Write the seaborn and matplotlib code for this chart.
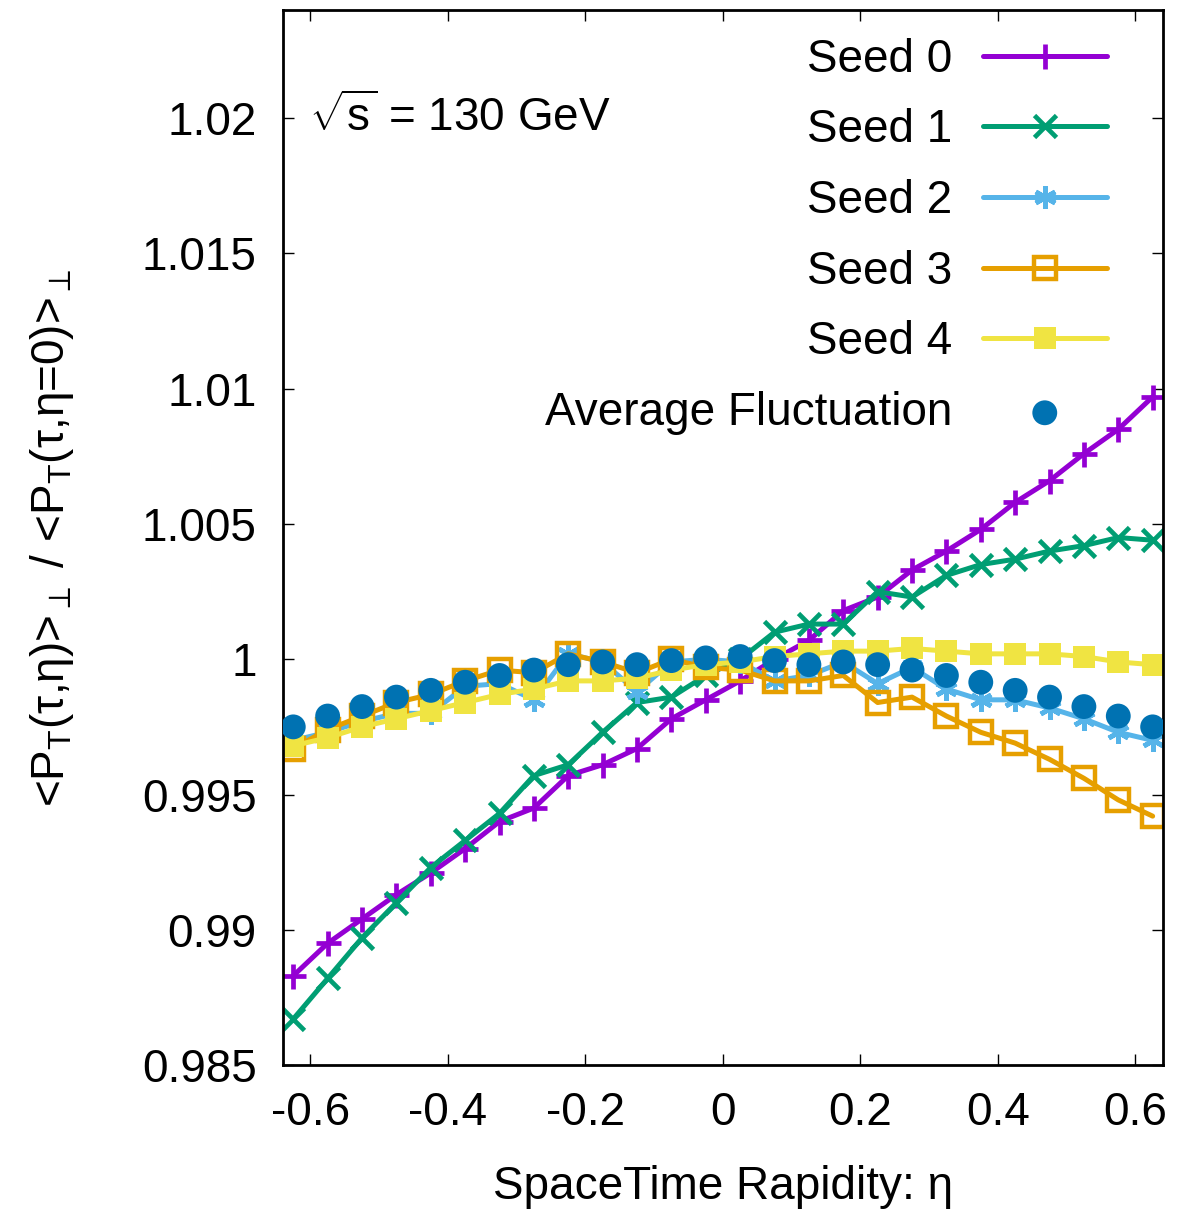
import matplotlib
matplotlib.use("Agg")
import matplotlib.pyplot as plt
from matplotlib.ticker import FormatStrFormatter
import seaborn as sns

# Data
eta = [-0.625, -0.575, -0.525, -0.475, -0.425, -0.375, -0.325, -0.275, -0.225,
       -0.175, -0.125, -0.075, -0.025, 0.025, 0.075, 0.125, 0.175, 0.225, 0.275,
       0.325, 0.375, 0.425, 0.475, 0.525, 0.575, 0.625]

seed0 = [0.9883, 0.9895, 0.9904, 0.9913, 0.9921, 0.9930, 0.9940, 0.9945, 0.9957,
         0.9961, 0.9967, 0.9978, 0.9985, 0.9992, 1.0000, 1.0007, 1.0018, 1.0023,
         1.0033, 1.0040, 1.0048, 1.0058, 1.0066, 1.0076, 1.0085, 1.0097]
seed1 = [0.9867, 0.9882, 0.9897, 0.9910, 0.9923, 0.9933, 0.9943, 0.9957, 0.9961,
         0.9973, 0.9984, 0.9986, 0.9994, 1.0000, 1.0010, 1.0013, 1.0013, 1.0025,
         1.0023, 1.0031, 1.0035, 1.0037, 1.0040, 1.0042, 1.0045, 1.0044]
seed2 = [0.9970, 0.9973, 0.9977, 0.9980, 0.9980, 0.9990, 0.9991, 0.9985, 1.0002,
         0.9999, 0.9988, 0.9999, 1.0000, 0.9999, 0.9992, 0.9994, 0.9999, 0.9991,
         0.9997, 0.9989, 0.9985, 0.9985, 0.9982, 0.9978, 0.9973, 0.9970]
seed3 = [0.9967, 0.9974, 0.9979, 0.9984, 0.9987, 0.9992, 0.9996, 0.9995, 1.0002,
         0.9999, 0.9995, 1.0000, 0.9997, 0.9996, 0.9992, 0.9992, 0.9994, 0.9984,
         0.9986, 0.9979, 0.9973, 0.9969, 0.9963, 0.9956, 0.9948, 0.9942]
seed4 = [0.9968, 0.9971, 0.9975, 0.9978, 0.9981, 0.9984, 0.9987, 0.9989, 0.9992,
         0.9992, 0.9993, 0.9996, 0.9998, 0.9999, 1.0001, 1.0002, 1.0003, 1.0003,
         1.0004, 1.0003, 1.0002, 1.0002, 1.0002, 1.0001, 0.9999, 0.9998]
avg = [0.9975, 0.9979, 0.99825, 0.9986, 0.99885, 0.99915, 0.9994, 0.9996, 0.9998,
       0.9999, 0.9998, 0.99995, 1.00005, 1.0001, 0.99995, 0.9998, 0.9999, 0.9998,
       0.9996, 0.9994, 0.99915, 0.99885, 0.9986, 0.99825, 0.9979, 0.9975]

xticks = [-0.6, -0.4, -0.2, 0, 0.2, 0.4, 0.6]
yticks = [0.985, 0.99, 0.995, 1.0, 1.005, 1.01, 1.015, 1.02]

sns.set_style("ticks")
plt.rcParams['font.family'] = ['Liberation Sans', 'DejaVu Sans']
plt.rcParams['mathtext.fontset'] = 'custom'
plt.rcParams['mathtext.rm'] = 'Liberation Sans'
plt.rcParams['mathtext.it'] = 'Liberation Sans:italic'
plt.rcParams['mathtext.bf'] = 'Liberation Sans:bold'
plt.rcParams['axes.unicode_minus'] = False
for key in ['text.color', 'axes.labelcolor', 'xtick.color', 'ytick.color', 'axes.edgecolor']:
    plt.rcParams[key] = 'black'

FS = 33

fig = plt.figure(figsize=(11.79, 12.09), dpi=100)
ax = fig.add_axes([0.240, 0.1191, 0.7464, 0.8726])

styles = [
    ("Seed 0", seed0, '#9400D3', dict(marker='+', markersize=18, markeredgewidth=3.4)),
    ("Seed 1", seed1, '#009E73', dict(marker='x', markersize=16, markeredgewidth=3.4)),
    ("Seed 2", seed2, '#56B4E9', dict(marker=(6, 2, 0), markersize=16, markeredgewidth=3.4)),
    ("Seed 3", seed3, '#E69F00', dict(marker='s', markersize=16, markeredgewidth=3.2,
                                      markerfacecolor='none')),
    ("Seed 4", seed4, '#F0E442', dict(marker='s', markersize=16, markeredgewidth=0)),
]
for name, vals, col, kw in styles:
    sns.lineplot(x=eta, y=vals, ax=ax, label=name, linewidth=3.6, color=col,
                 markeredgecolor=col, **kw)

sns.scatterplot(x=eta, y=avg, ax=ax, label="Average Fluctuation", s=320,
                color='#0072B2', edgecolor='none', zorder=5)

ax.set_xlim(-0.64, 0.64)
ax.set_ylim(0.985, 1.024)
ax.set_xticks(xticks)
ax.set_yticks(yticks)
ax.xaxis.set_major_formatter(FormatStrFormatter('%g'))
ax.yaxis.set_major_formatter(FormatStrFormatter('%g'))
ax.tick_params(direction='in', length=8, width=1, top=True, right=True, labelsize=FS)
ax.tick_params(axis='x', pad=19)
ax.tick_params(axis='y', pad=19)
for sp in ax.spines.values():
    sp.set_linewidth(2)

ax.set_xlabel("SpaceTime Rapidity: η", fontsize=FS, labelpad=21)
ax.set_ylabel(r"<P$_{\rm T}$(τ,η)>$_\perp$ / <P$_{\rm T}$(τ,η=0)>$_\perp$",
              fontsize=FS, labelpad=47)

ax.text(0.0295, 0.8976, r"$\sqrt{\mathrm{s}}$ = 130 GeV", transform=ax.transAxes,
        fontsize=FS, ha='left', va='center')

ax.legend(loc='upper right', bbox_to_anchor=(0.936, 0.9736), frameon=False,
          markerfirst=False, handlelength=2.7, handletextpad=0.67,
          labelspacing=0.58, fontsize=FS, borderpad=0, borderaxespad=0)

fig.savefig("out.png", dpi=100)
